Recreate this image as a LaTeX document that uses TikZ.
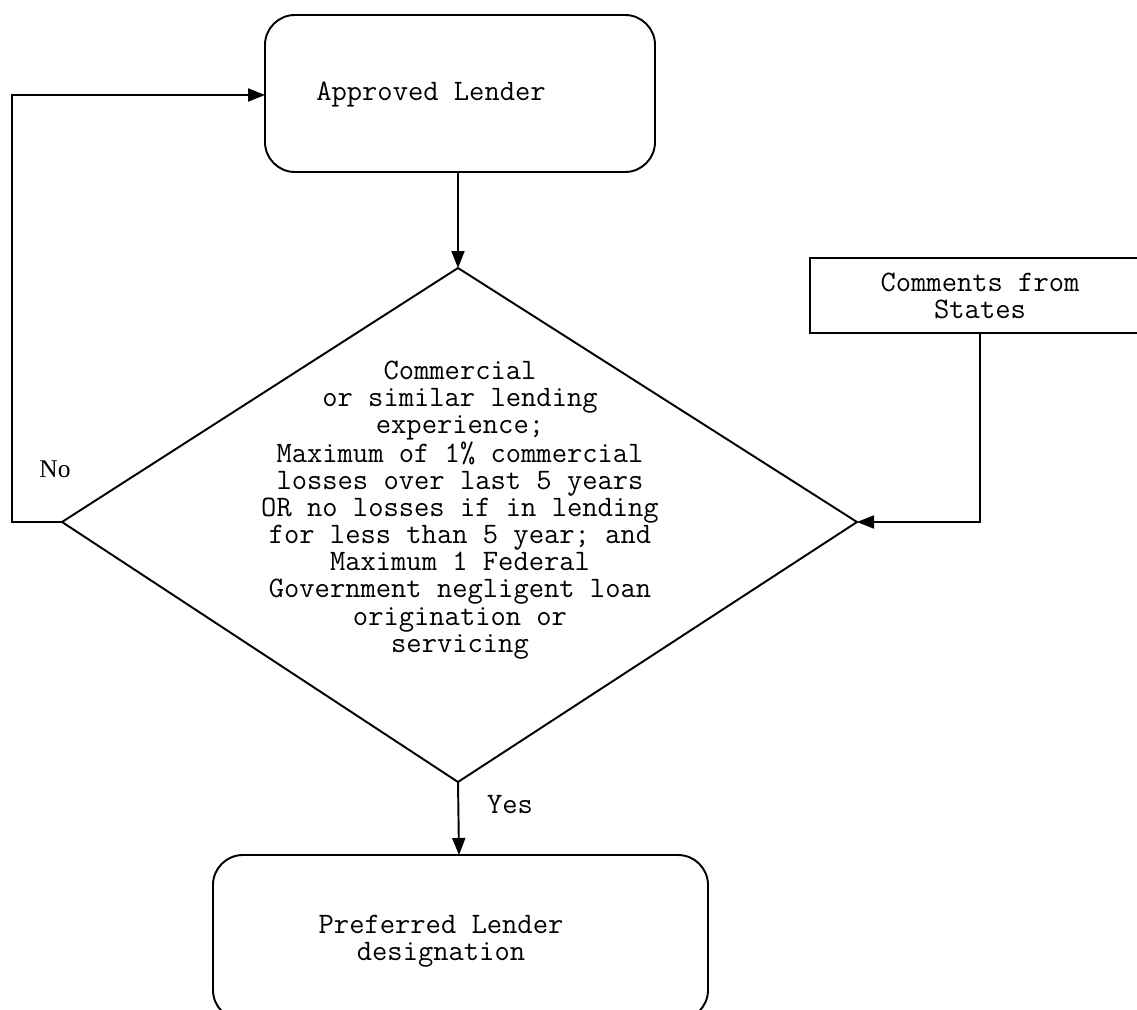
\documentclass[tikz,border=0pt]{standalone}
\usepackage{fontspec}
\setmainfont{Liberation Serif}
\usetikzlibrary{arrows.meta}
\begin{document}
\begin{tikzpicture}[x=0.02cm,y=-0.02cm,
  line width=1.1pt,
  arr/.style={-{Triangle[length=3.4mm,width=2.6mm]}},
  txt/.style={font=\fontsize{16.9}{15.4}\selectfont\ttfamily, align=center, inner sep=0pt},
  rbox/.style={draw, rounded corners=0.6cm}]
\useasboundingbox (0,0) rectangle (1137,1010);
% boxes
\draw[rbox] (265,15) rectangle (655,172);
\coordinate (al) at (265,95);
\coordinate (ab) at (458,172);
\node[txt] (approved) at (431,95) {Approved Lender};
\draw (810,258) rectangle (1150,333);
\coordinate (cb) at (980,333);
\node[txt] (comments) at (980,296) {Comments from\\States};
\draw[rbox] (213,855) rectangle (708,1020);
\coordinate (pt) at (459,855);
\node[txt] (preferred) at (441,941) {Preferred Lender\\designation};
% diamond
\coordinate (dtop) at (458,268);
\coordinate (dleft) at (62,522);
\coordinate (dright) at (857,522);
\coordinate (dbot) at (458,782);
\draw (dtop) -- (dright) -- (dbot) -- (dleft) -- cycle;
\node[txt] (cond) at (460,510) {Commercial\\or similar lending\\experience;\\Maximum of 1\% commercial\\losses over last 5 years\\OR no losses if in lending\\for less than 5 year; and\\Maximum 1 Federal\\Government negligent loan\\origination or\\servicing};
% connectors
\draw[arr] (ab) -- (dtop);
\coordinate (nl1) at (12,522);
\coordinate (nl2) at (12,95);
\draw[arr] (dleft) -- (nl1) -- (nl2) -- (al);
\coordinate (cr) at (980,522);
\draw[arr] (cb) -- (cr) -- (dright);
\draw[arr] (dbot) -- (pt);
\node[font=\fontsize{14.5}{16}\selectfont, inner sep=0pt] (no) at (55,469) {No};
\node[txt] (yes) at (510,805) {Yes};
\end{tikzpicture}
\end{document}
